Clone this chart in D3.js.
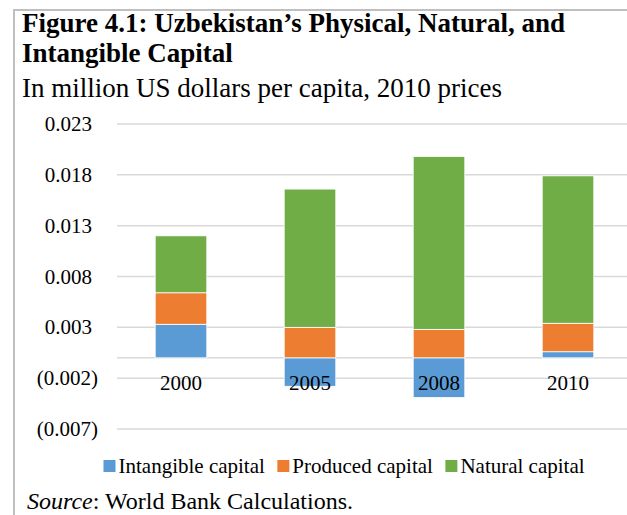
<!DOCTYPE html>
<html>
<head>
<meta charset="utf-8">
<script src="https://cdnjs.cloudflare.com/ajax/libs/d3/7.8.5/d3.min.js"></script>
<style>
  body { margin: 0; background: #fff; }
  svg { display: block; font-family: "Liberation Serif", "Times New Roman", serif; }
</style>
</head>
<body>
<div id="chart"></div>
<script>
// chart values
const years = ['2000', '2005', '2008', '2010'];
const seriesNames = ['Intangible capital', 'Produced capital', 'Natural capital'];
const seriesKeys = ['intangible', 'produced', 'natural'];
const intangible = [0.0033, -0.0028, -0.0039, 0.0006];
const produced = [0.0031, 0.0030, 0.0028, 0.0028];
const natural = [0.0056, 0.0136, 0.0170, 0.0145];
const yTicks = [0.023, 0.018, 0.013, 0.008, 0.003, -0.002, -0.007];

const Colors = {intangible: '#5b9bd5', produced: '#ed7d31', natural: '#70ad47'};

const width = 627, height = 515;

let rows = years.map(function(y, i) {
    return {year: y, intangible: intangible[i], produced: produced[i], natural: natural[i]};
});

let svg = d3.select('#chart').append('svg')
    .attr('width', width)
    .attr('height', height);

// frame (left and top edge of the page box)
svg.append('line').attr('x1', 14).attr('x2', 14).attr('y1', 9).attr('y2', height)
    .attr('stroke', '#bfbfbf').attr('stroke-width', 2);
svg.append('line').attr('x1', 13).attr('x2', width).attr('y1', 10).attr('y2', 10)
    .attr('stroke', '#bfbfbf').attr('stroke-width', 2);

// titles
svg.append('text').attr('x', 22).attr('y', 32)
    .attr('font-size', 27).attr('font-weight', 'bold')
    .text('Figure 4.1: Uzbekistan\u2019s Physical, Natural, and');
svg.append('text').attr('x', 22).attr('y', 62)
    .attr('font-size', 27).attr('font-weight', 'bold')
    .text('Intangible Capital');
svg.append('text').attr('x', 22).attr('y', 97)
    .attr('font-size', 27)
    .text('In million US dollars per capita, 2010 prices');

let x = d3.scaleBand()
    .domain(years)
    .range([116.5, 632.5])
    .paddingInner(0.6)
    .paddingOuter(0.3);

let y = d3.scaleLinear()
    .domain([-0.007, 0.023])
    .range([429, 124]);

// gridlines
svg.append('g').classed('grid', true)
    .selectAll('line')
    .data(yTicks.concat([0]))
    .enter()
    .append('line')
    .attr('x1', 117)
    .attr('x2', width)
    .attr('y1', function(d) { return y(d); })
    .attr('y2', function(d) { return y(d); })
    .attr('stroke', '#d9d9d9')
    .attr('stroke-width', 1.5);

// tick labels, accounting style
let fmt = d3.format('.3f');
svg.append('g').classed('y-labels', true)
    .selectAll('text')
    .data(yTicks)
    .enter()
    .append('text')
    .attr('x', function(d) { return d < 0 ? 98 : 92; })
    .attr('y', function(d) { return y(d); })
    .attr('dy', '0.34em')
    .attr('text-anchor', 'end')
    .attr('font-size', 21)
    .text(function(d) { return d < 0 ? '(' + fmt(-d) + ')' : fmt(d); });

let stacked = d3.stack()
    .keys(seriesKeys)
    .offset(d3.stackOffsetDiverging)(rows);

svg.append('g').classed('bars', true)
    .selectAll('g')
    .data(stacked)
    .enter()
    .append('g')
    .attr('fill', function(d) { return Colors[d.key]; })
    .selectAll('rect')
    .data(function(d) { return d; })
    .enter()
    .append('rect')
    .attr('x', function(d) { return x(d.data.year); })
    .attr('width', x.bandwidth())
    .attr('y', function(d) { return y(Math.max(d[0], d[1])); })
    .attr('height', function(d) { return Math.abs(y(d[0]) - y(d[1])); })
    .attr('stroke', '#fff')
    .attr('stroke-width', 0.8);

// category labels sit just under the zero line
svg.append('g').classed('x-labels', true)
    .selectAll('text')
    .data(years)
    .enter()
    .append('text')
    .attr('x', function(d) { return x(d) + x.bandwidth() / 2; })
    .attr('y', 390)
    .attr('text-anchor', 'middle')
    .attr('font-size', 21)
    .text(function(d) { return d; });

// legend
let legend = svg.append('g').classed('legend', true);
let lx = 103.5;
seriesKeys.forEach(function(key, i) {
    legend.append('rect')
        .attr('x', lx).attr('y', 460)
        .attr('width', 12).attr('height', 12)
        .attr('fill', Colors[key]);
    let t = legend.append('text')
        .attr('x', lx + 15).attr('y', 473)
        .attr('font-size', 21)
        .text(seriesNames[i]);
    lx += 15 + t.node().getComputedTextLength() + 12.5;
});

// source note
let src = svg.append('text').attr('x', 27).attr('y', 509).attr('font-size', 24);
src.append('tspan').attr('font-style', 'italic').text('Source');
src.append('tspan').text(': World Bank Calculations.');
</script>
</body>
</html>
